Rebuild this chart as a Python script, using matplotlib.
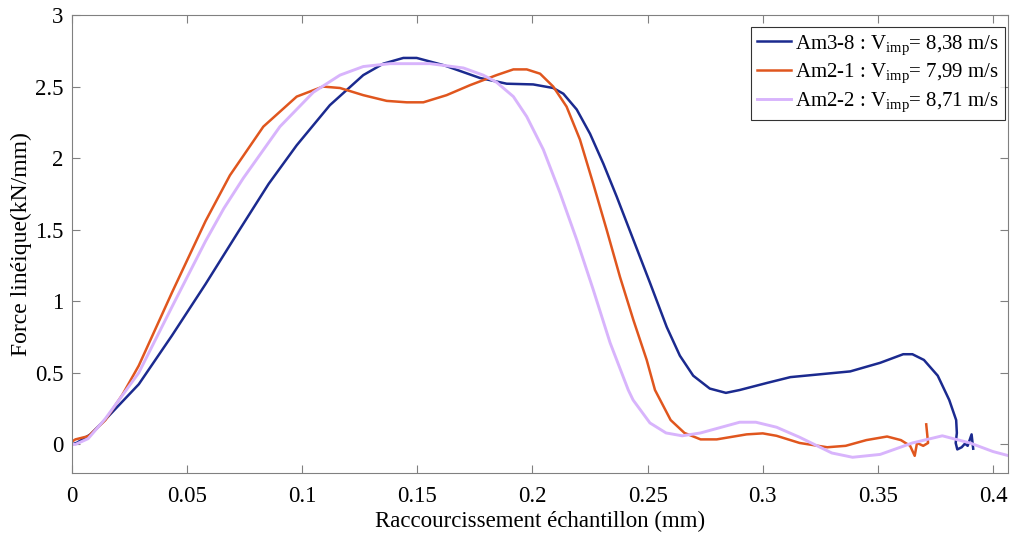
import matplotlib
matplotlib.use("Agg")
import matplotlib.pyplot as plt

plt.rcParams['font.family'] = ['Liberation Serif', 'DejaVu Serif']
plt.rcParams['mathtext.fontset'] = 'custom'
plt.rcParams['mathtext.rm'] = 'Liberation Serif'
plt.rcParams['mathtext.it'] = 'Liberation Serif:italic'

# Am3-8
x_a38 = [0, 0.0022, 0.008, 0.0145, 0.029, 0.0434, 0.058, 0.0724, 0.0854, 0.0976,
         0.112, 0.1265, 0.1352, 0.1439, 0.1497, 0.1613, 0.1772, 0.1888, 0.2003,
         0.209, 0.2134, 0.2192, 0.225, 0.2308, 0.2366, 0.2438, 0.251, 0.2583,
         0.264, 0.2698, 0.277, 0.284, 0.29, 0.302, 0.312, 0.325, 0.338, 0.351,
         0.361, 0.365, 0.37, 0.376, 0.381, 0.384, 0.3843, 0.3838, 0.3845, 0.3864,
         0.3878, 0.389, 0.3907, 0.3914]
y_a38 = [0.0, 0.012, 0.07, 0.174, 0.42, 0.76, 1.12, 1.49, 1.82, 2.09,
         2.37, 2.58, 2.66, 2.7, 2.7, 2.65, 2.56, 2.52, 2.515,
         2.49, 2.45, 2.34, 2.17, 1.96, 1.73, 1.43, 1.13, 0.82,
         0.62, 0.48, 0.39, 0.36, 0.38, 0.43, 0.47, 0.49, 0.51, 0.57,
         0.63, 0.63, 0.59, 0.48, 0.31, 0.17, 0.08, 0.01, -0.035, -0.02,
         0.005, -0.01, 0.07, -0.03]

# Am2-1
x_a21 = [0, 0.0015, 0.0072, 0.0145, 0.022, 0.029, 0.0434, 0.058, 0.0686, 0.0831,
         0.0976, 0.109, 0.1164, 0.1265, 0.1367, 0.1454, 0.1526, 0.1627, 0.1729,
         0.1844, 0.1917, 0.1975, 0.2033, 0.209, 0.2148, 0.2206, 0.2264, 0.2322,
         0.238, 0.2438, 0.2496, 0.2532, 0.26, 0.266, 0.273, 0.28, 0.293, 0.3,
         0.306, 0.316, 0.328, 0.336, 0.345, 0.354, 0.36, 0.364, 0.366, 0.367,
         0.3697, 0.3718, 0.371]
y_a21 = [0.02, 0.035, 0.058, 0.17, 0.35, 0.55, 1.06, 1.56, 1.88, 2.22,
         2.43, 2.5, 2.49, 2.44, 2.4, 2.39, 2.39, 2.44, 2.51,
         2.58, 2.62, 2.62, 2.59, 2.5, 2.36, 2.13, 1.82, 1.5,
         1.17, 0.87, 0.59, 0.38, 0.17, 0.08, 0.035, 0.035, 0.07, 0.077,
         0.06, 0.01, -0.02, -0.01, 0.03, 0.055, 0.03, -0.01, -0.08, 0.01,
         -0.01, 0.01, 0.14]

# Am2-2
x_a22 = [0, 0.0015, 0.007, 0.0145, 0.029, 0.0434, 0.058, 0.066, 0.0744, 0.0903, 0.1048,
         0.1164, 0.1265, 0.1381, 0.1555, 0.17, 0.1786, 0.1844, 0.1917, 0.1975,
         0.2047, 0.2119, 0.2192, 0.2264, 0.2337, 0.2416, 0.2437, 0.251, 0.258,
         0.265, 0.273, 0.29, 0.297, 0.306, 0.316, 0.33, 0.339, 0.351, 0.365,
         0.378, 0.39, 0.4, 0.407]
y_a22 = [0.0, 0.0, 0.04, 0.18, 0.5, 0.96, 1.42, 1.65, 1.86, 2.22, 2.46,
         2.58, 2.64, 2.66, 2.66, 2.63, 2.58, 2.53, 2.43, 2.29,
         2.06, 1.76, 1.43, 1.08, 0.71, 0.38, 0.31, 0.15, 0.08,
         0.06, 0.08, 0.155, 0.155, 0.12, 0.05, -0.06, -0.09, -0.07, 0.01,
         0.06, 0.01, -0.05, -0.08]

labels = [r'Am3-8 : V$_{\mathrm{imp}}$= 8,38 m/s',
          r'Am2-1 : V$_{\mathrm{imp}}$= 7,99 m/s',
          r'Am2-2 : V$_{\mathrm{imp}}$= 8,71 m/s']
colors = ['#1b2a8f', '#e0561e', '#d8b4fc']

fig = plt.figure(figsize=(10.11, 5.36), dpi=100)
ax = fig.add_axes([0.0712, 0.1175, 0.9258, 0.8545])

ax.plot(x_a38, y_a38, color=colors[0], lw=1.8, label=labels[0])
ax.plot(x_a21, y_a21, color=colors[1], lw=1.8, label=labels[1])
ax.plot(x_a22, y_a22, color=colors[2], lw=2.1, label=labels[2])

ax.set_xlim(0, 0.4065)
ax.set_ylim(-0.2, 3)
ax.set_xticks([0, 0.05, 0.1, 0.15, 0.2, 0.25, 0.3, 0.35, 0.4])
ax.set_xticklabels(['0', '0.05', '0.1', '0.15', '0.2', '0.25', '0.3', '0.35', '0.4'])
ax.set_yticks([0, 0.5, 1, 1.5, 2, 2.5, 3])
ax.set_yticklabels(['0', '0.5', '1', '1.5', '2', '2.5', '3'])
ax.tick_params(direction='in', top=True, right=True, labelsize=16.5, length=6,
               color='#808080')
ax.tick_params(axis='x', pad=9)
ax.tick_params(axis='y', pad=6)
for s in ax.spines.values():
    s.set_color('#808080')

ax.set_xlabel('Raccourcissement échantillon (mm)', fontsize=16.5, labelpad=3)
ax.set_ylabel('Force linéique(kN/mm)', fontsize=17, labelpad=2)

leg = ax.legend(loc='upper right', bbox_to_anchor=(0.9968, 0.9738), fontsize=15,
                frameon=True, fancybox=False, edgecolor='black',
                handlelength=1.6, handletextpad=0.2, borderpad=0.3,
                labelspacing=0.25, borderaxespad=0)
leg.get_frame().set_linewidth(0.8)

fig.savefig('out.png', dpi=100)
